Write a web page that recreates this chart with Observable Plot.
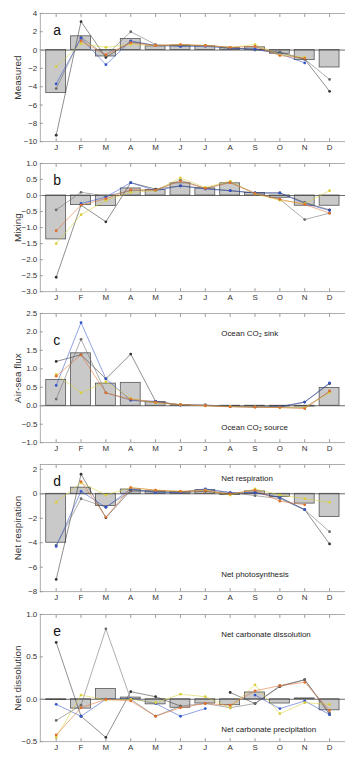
<!DOCTYPE html>
<html>
<head>
<meta charset="utf-8">
<script src="https://cdn.jsdelivr.net/npm/d3@7"></script>
<script src="https://cdn.jsdelivr.net/npm/@observablehq/plot@0.6"></script>
<style>
  html, body { margin: 0; padding: 0; background: #fff; }
  body { width: 345px; height: 757px; overflow: hidden; }
  #chart svg { display: block; overflow: visible; }
  #chart svg [aria-label="y-axis label"] text { font-size: 10px; }
</style>
</head>
<body>
<div id="chart"></div>
<script>
const months = ["J","F","M","A","M","J","J","A","S","O","N","D"];
const seriesNames = ["s1","s2","blue","yellow","orange"];
const seriesColors = ["#333333","#6b6b6b","#3355cc","#d8cf3a","#e0702e"];

// Panel a: Measured
const aBars   = [-4.7, 1.5, -0.7, 1.2, 0.4, 0.5, 0.4, 0.2, 0.3, -0.4, -1.1, -1.9];
const aS1     = [-9.3, 3.1, -0.8, 0.9, 0.5, 0.5, 0.5, 0.2, 0.1, -0.3, -1.0, -4.5];
const aS2     = [-4.2, 1.4, -0.6, 2.0, 0.6, 0.4, 0.5, 0.3, 0.0, -0.2, -1.0, -3.2];
const aBlue   = [-3.7, 1.3, -1.6, 1.0, 0.5, 0.4, 0.4, 0.2, 0.1, -0.4, -1.4, null];
const aYellow = [-1.8, 0.7, 0.3, 0.6, 0.5, 0.6, 0.5, 0.3, 0.6, -0.5, -0.8, null];
const aOrange = [null, 1.0, -0.5, 0.8, 0.5, 0.6, 0.5, 0.3, 0.4, -0.6, -0.9, null];
const aTicks  = [4, 2, 0, -2, -4, -6, -8, -10];

// Panel b: Mixing
const bBars   = [-1.37, -0.3, -0.33, 0.22, 0.17, 0.38, 0.22, 0.38, 0.08, -0.07, -0.32, -0.32];
const bS1     = [-2.55, -0.3, -0.82, 0.4, 0.2, 0.3, 0.22, 0.15, 0.08, 0.08, -0.22, -0.45];
const bS2     = [-0.45, 0.1, -0.02, 0.15, 0.17, 0.48, 0.22, 0.42, 0.07, -0.12, -0.75, -0.55];
const bBlue   = [null, -0.25, -0.05, 0.4, 0.15, 0.3, 0.2, 0.15, 0.08, 0.08, -0.25, -0.47];
const bYellow = [-1.5, -0.6, -0.15, 0.1, 0.15, 0.55, 0.25, 0.45, 0.05, -0.15, -0.25, 0.15];
const bOrange = [-1.1, -0.3, -0.1, 0.18, 0.17, 0.45, 0.22, 0.4, 0.06, -0.12, -0.28, -0.55];
const bTicks  = [1, 0.5, 0, -0.5, -1, -1.5, -2, -2.5, -3];

// Panel c: Air-sea flux
const cBars   = [0.7, 1.42, 0.6, 0.62, 0.1, 0.01, 0.0, -0.01, -0.01, -0.02, -0.02, 0.48];
const cS1     = [1.2, 1.38, 0.73, 1.4, 0.12, 0.02, 0.02, -0.02, -0.03, -0.03, 0.1, 0.6];
const cS2     = [0.18, 1.8, 0.35, 0.15, 0.08, 0.03, 0.01, -0.02, -0.03, -0.04, -0.05, 0.38];
const cBlue   = [0.55, 2.25, 0.73, 0.15, 0.12, 0.02, 0.01, -0.02, -0.03, -0.03, 0.1, 0.62];
const cYellow = [0.85, 0.35, 0.65, 0.2, 0.08, 0.03, 0.0, -0.02, -0.03, -0.05, -0.05, 0.35];
const cOrange = [0.8, 1.38, 0.35, 0.18, 0.1, 0.03, 0.0, -0.03, -0.04, -0.05, -0.08, 0.4];
const cTicks  = [2.5, 2, 1.5, 1, 0.5, 0, -0.5, -1];

// Panel d: Net respiration
const dBars   = [-4.0, 0.5, -1.0, 0.35, 0.2, 0.15, 0.3, -0.1, 0.2, -0.25, -0.8, -1.9];
const dS1     = [-7.0, 1.6, -1.95, 0.3, 0.2, 0.1, 0.2, 0.0, 0.1, -0.3, -1.3, -4.1];
const dS2     = [-4.2, -0.4, -1.1, 0.2, 0.15, 0.15, 0.35, 0.1, -0.15, -0.4, -1.3, -3.1];
const dBlue   = [-4.3, 0.2, -1.1, 0.4, 0.1, 0.1, 0.4, 0.1, 0.1, -0.3, -1.3, null];
const dYellow = [-0.7, 0.9, -0.1, 0.5, 0.3, 0.2, 0.3, -0.1, 0.4, -0.1, -0.4, -0.7];
const dOrange = [null, 1.0, -1.9, 0.5, 0.3, 0.2, 0.25, 0.0, 0.3, -0.6, -0.9, null];
const dTicks  = [2, 0, -2, -4, -6, -8];

// Panel e: Net dissolution
const eBars   = [-0.01, -0.11, 0.12, 0.02, -0.06, -0.1, -0.05, -0.07, 0.08, -0.05, 0.01, -0.13];
const eS1     = [0.67, -0.2, -0.45, 0.09, 0.03, -0.08, null, 0.08, -0.05, 0.15, 0.23, -0.18];
const eS2     = [-0.25, -0.07, 0.83, 0.0, -0.2, -0.08, -0.05, -0.1, -0.05, 0.16, 0.23, -0.16];
const eBlue   = [-0.06, -0.2, 0.0, 0.01, -0.05, -0.2, -0.11, null, 0.05, -0.11, -0.02, -0.18];
const eYellow = [-0.45, 0.05, -0.01, 0.0, -0.04, 0.06, 0.03, -0.1, 0.17, -0.17, -0.04, -0.06];
const eOrange = [-0.42, -0.1, 0.0, -0.02, -0.2, -0.1, -0.05, -0.07, 0.1, 0.16, 0.2, -0.13];
const eTicks  = [1, 0.5, 0, -0.5];

const panels = [
  {letter: "a", label: "Measured", bars: aBars, series: [aS1, aS2, aBlue, aYellow, aOrange], domain: [-10, 4], ticks: aTicks,
   mt: 13, h: 153, notes: []},
  {letter: "b", label: "Mixing", bars: bBars, series: [bS1, bS2, bBlue, bYellow, bOrange], domain: [-3, 1], ticks: bTicks,
   mt: 11, h: 151, notes: []},
  {letter: "c", label: "Air-sea flux", bars: cBars, series: [cS1, cS2, cBlue, cYellow, cOrange], domain: [-1, 2.5], ticks: cTicks,
   mt: 11, h: 152, letterDy: 27, notes: [{t: "Ocean CO\u2082 sink", v: 1.96}, {t: "Ocean CO\u2082 source", v: -0.6}]},
  {letter: "d", label: "Net respiration", bars: dBars, series: [dS1, dS2, dBlue, dYellow, dOrange], domain: [-8, 2.4], ticks: dTicks,
   mt: 11, h: 150, notes: [{t: "Net respiration", v: 1.24}, {t: "Net photosynthesis", v: -6.57}]},
  {letter: "e", label: "Net dissolution", bars: eBars, series: [eS1, eS2, eBlue, eYellow, eOrange], domain: [-0.5, 1], ticks: eTicks,
   mt: 12, h: 151, notes: [{t: "Net carbonate dissolution", v: 0.765}, {t: "Net carbonate precipitation", v: -0.36}]}
];

const chart = document.getElementById("chart");
for (const p of panels) {
  const barData = p.bars.map((v, i) => ({m: i, v}));
  const lineData = [];
  p.series.forEach((arr, k) => arr.forEach((v, i) => lineData.push({m: i, v, s: seriesNames[k]})));
  const lineDefined = lineData.filter(d => d.v != null);
  const svg = Plot.plot({
    width: 347,
    height: p.h,
    marginLeft: 40,
    marginRight: 0,
    marginTop: p.mt,
    marginBottom: 11,
    style: {fontFamily: "'Liberation Sans', Arial, sans-serif", fontSize: "8px", color: "#333", background: "transparent"},
    x: {type: "band", domain: d3.range(12), paddingInner: 0.2, paddingOuter: 0.1, label: null},
    y: {domain: p.domain},
    color: {domain: seriesNames, range: seriesColors},
    marks: [
      Plot.barY(barData, {x: "m", y: "v", fill: "#c9c9c9", stroke: "#555", strokeWidth: 0.8}),
      Plot.ruleY([0], {stroke: "#444", strokeWidth: 0.8}),
      Plot.line(lineData, {x: "m", y: "v", z: "s", stroke: "s", strokeWidth: 0.65, strokeOpacity: 0.85, curve: "linear"}),
      Plot.dot(lineDefined, {x: "m", y: "v", fill: "s", r: 1.4}),
      Plot.frame({stroke: "#999", strokeWidth: 0.8}),
      Plot.axisX({anchor: "bottom", tickSize: -3, tickPadding: 6, tickFormat: i => months[i], label: null, stroke: "#999"}),
      Plot.axisX({anchor: "top", tickSize: -3, tickFormat: () => "", label: null, stroke: "#999"}),
      Plot.axisY({anchor: "left", ticks: p.ticks, tickSize: -3, tickPadding: 6, label: p.label, labelAnchor: "center", labelArrow: "none", labelOffset: 26, stroke: "#999"}),
      Plot.text([p.letter], {frameAnchor: "top-left", dx: 13, dy: p.letterDy || 17, fontSize: 14, fill: "#111", lineAnchor: "middle"}),
      Plot.text(p.notes, {x: () => 7, y: "v", text: "t", textAnchor: "start", dx: -9, fontSize: 8, fill: "#222"})
    ]
  });
  chart.appendChild(svg);
}
</script>
</body>
</html>
